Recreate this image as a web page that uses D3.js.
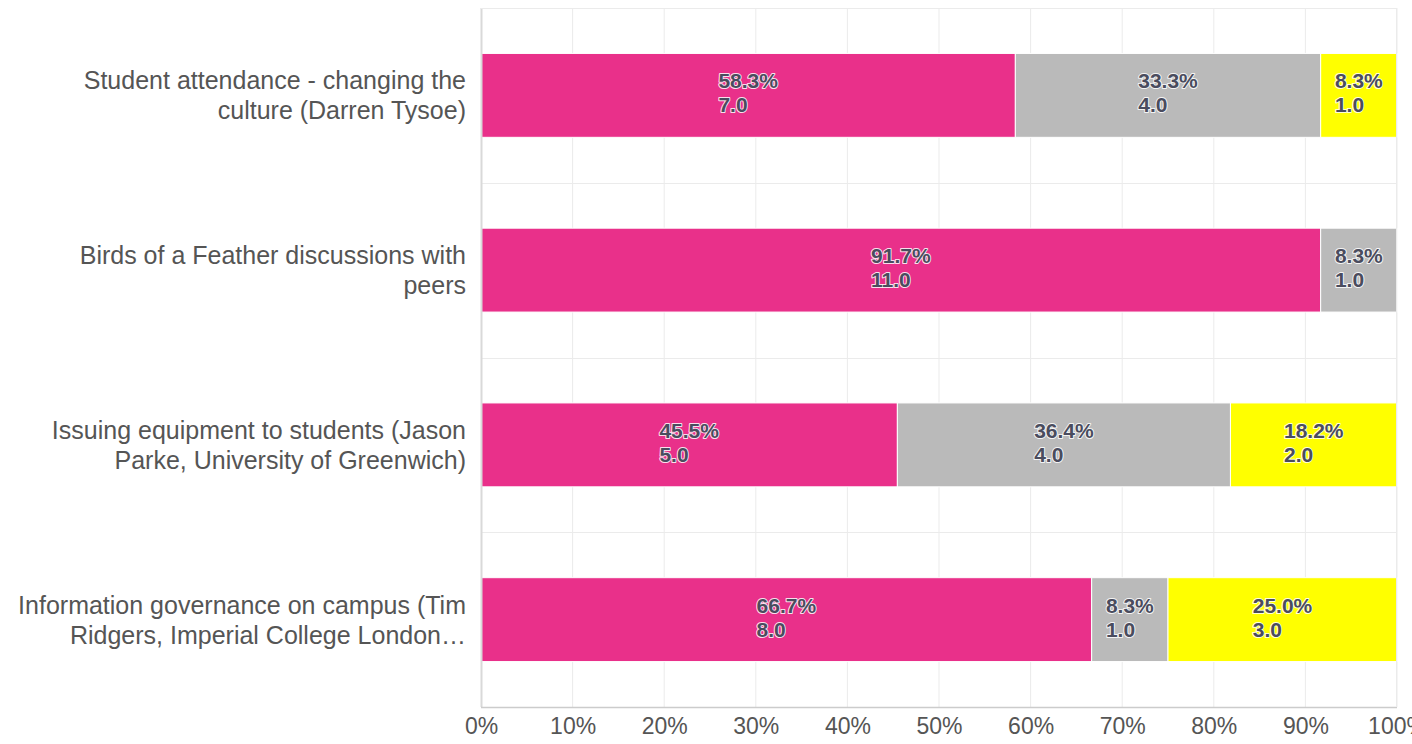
<!DOCTYPE html>
<html>
<head>
<meta charset="utf-8">
<script src="https://cdn.jsdelivr.net/npm/d3@7"></script>
<style>
  body { margin: 0; background: #fff; }
  svg { display: block; font-family: "Liberation Sans", Arial, sans-serif; }
</style>
</head>
<body>
<div id="chart"></div>
<script>
// chart data
var categories = [
  ["Student attendance - changing the", "culture (Darren Tysoe)"],
  ["Birds of a Feather discussions with", "peers"],
  ["Issuing equipment to students (Jason", "Parke, University of Greenwich)"],
  ["Information governance on campus (Tim", "Ridgers, Imperial College London\u2026"]
];
var seriesNames = ["pink", "grey", "yellow"];
var pinkCounts = [7, 11, 5, 8];
var greyCounts = [4, 1, 4, 1];
var yellowCounts = [1, 0, 2, 3];
var seriesColors = ["#e9308a", "#bababa", "#ffff00"];
var tickValues = [0, 0.1, 0.2, 0.3, 0.4, 0.5, 0.6, 0.7, 0.8, 0.9, 1.0];

var width = 1412, height = 744;
var margin = {top: 8, right: 15, bottom: 37, left: 481};

var svg = d3.select("#chart").append("svg")
  .attr("width", width)
  .attr("height", height);

var innerW = width - margin.left - margin.right,
    innerH = height - margin.top - margin.bottom;

var g = svg.append("g")
  .attr("transform", "translate(" + margin.left + "," + margin.top + ")");

var x = d3.scaleLinear().domain([0, 1]).range([0, innerW]);
var y = d3.scaleBand().domain(d3.range(categories.length)).range([0, innerH]).paddingInner(0).paddingOuter(0);

// build stacked rows
var rows = categories.map(function(c, i) {
  var counts = [pinkCounts[i], greyCounts[i], yellowCounts[i]];
  var total = d3.sum(counts);
  var x0 = 0;
  var segs = counts.map(function(v, k) {
    var s = {row: i, k: k, count: v, frac: v / total, x0: x0, x1: x0 + v / total};
    x0 += v / total;
    return s;
  });
  return {label: c, segs: segs};
});

// gridlines
g.append("g").selectAll("line.v")
  .data(tickValues.slice(1))
  .enter().append("line")
  .attr("x1", function(d) { return x(d); })
  .attr("x2", function(d) { return x(d); })
  .attr("y1", 0).attr("y2", innerH)
  .attr("stroke", "#ebebeb").attr("stroke-width", 1);

g.append("g").selectAll("line.h")
  .data(d3.range(categories.length))
  .enter().append("line")
  .attr("x1", 0).attr("x2", innerW)
  .attr("y1", function(d) { return Math.round(y(d)) + 0.5; })
  .attr("y2", function(d) { return Math.round(y(d)) + 0.5; })
  .attr("stroke", "#ebebeb").attr("stroke-width", 1);

var barH = y.bandwidth() * 0.48;

var row = g.selectAll(".row")
  .data(rows)
  .enter().append("g")
  .attr("class", "row");

row.selectAll("rect")
  .data(function(d) { return d.segs.filter(function(s) { return s.count > 0; }); })
  .enter().append("rect")
  .attr("x", function(d) { return x(d.x0); })
  .attr("width", function(d) { return x(d.x1) - x(d.x0); })
  .attr("y", function(d) { return y(d.row) + (y.bandwidth() - barH) / 2; })
  .attr("height", barH)
  .attr("fill", function(d) { return seriesColors[d.k]; })
  .attr("stroke", "#fff")
  .attr("stroke-width", 1);

// value labels
row.selectAll("g.lab")
  .data(function(d) { return d.segs.filter(function(s) { return s.count > 0; }); })
  .enter().append("g")
  .attr("class", "lab")
  .each(function(d) {
    var el = d3.select(this);
    var cy = y(d.row) + y.bandwidth() / 2;
    var t1 = el.append("text")
      .attr("y", cy - 7)
      .text((d.frac * 100).toFixed(1) + "%");
    el.append("text")
      .attr("y", cy + 17)
      .text(d.count.toFixed(1));
    el.selectAll("text")
      .attr("font-size", 21)
      .attr("font-weight", "bold")
      .attr("fill", "#4a4c5e")
      .attr("stroke", "rgba(255,255,255,0.85)")
      .attr("stroke-width", 2)
      .attr("paint-order", "stroke")
      .attr("stroke-linejoin", "round");
    var w = t1.node().getComputedTextLength();
    var lx = (x(d.x0) + x(d.x1)) / 2 - w / 2;
    el.selectAll("text").attr("x", lx);
  });

// axis lines
g.append("line")
  .attr("x1", 0.5).attr("x2", 0.5).attr("y1", 0).attr("y2", innerH)
  .attr("stroke", "#d9d9d9").attr("stroke-width", 2);
g.append("line")
  .attr("x1", 0).attr("x2", innerW).attr("y1", innerH + 0.5).attr("y2", innerH + 0.5)
  .attr("stroke", "#cccccc").attr("stroke-width", 1.5);
g.append("line")
  .attr("x1", 0).attr("x2", innerW).attr("y1", 0.5).attr("y2", 0.5)
  .attr("stroke", "#ebebeb").attr("stroke-width", 1);
g.append("line")
  .attr("x1", innerW - 0.5).attr("x2", innerW - 0.5).attr("y1", 0).attr("y2", innerH)
  .attr("stroke", "#ebebeb").attr("stroke-width", 1);

// x tick labels
var xAxis = d3.axisBottom(x).tickValues(tickValues).tickFormat(d3.format(".0%")).tickSize(0).tickPadding(11);
var xg = g.append("g")
  .attr("transform", "translate(0," + innerH + ")")
  .call(xAxis);
xg.select(".domain").remove();
xg.selectAll("text")
  .attr("font-size", 23)
  .attr("font-family", "Liberation Sans, Arial, sans-serif")
  .attr("fill", "#555");

// category labels
row.append("text")
  .attr("text-anchor", "end")
  .attr("font-size", 25)
  .attr("fill", "#555")
  .each(function(d, i) {
    var cy = y(i) + y.bandwidth() / 2;
    var el = d3.select(this);
    d.label.forEach(function(line, j) {
      el.append("tspan")
        .attr("x", -15)
        .attr("y", cy - 15 + j * 30 + 9)
        .text(line);
    });
  });
</script>
</body>
</html>
